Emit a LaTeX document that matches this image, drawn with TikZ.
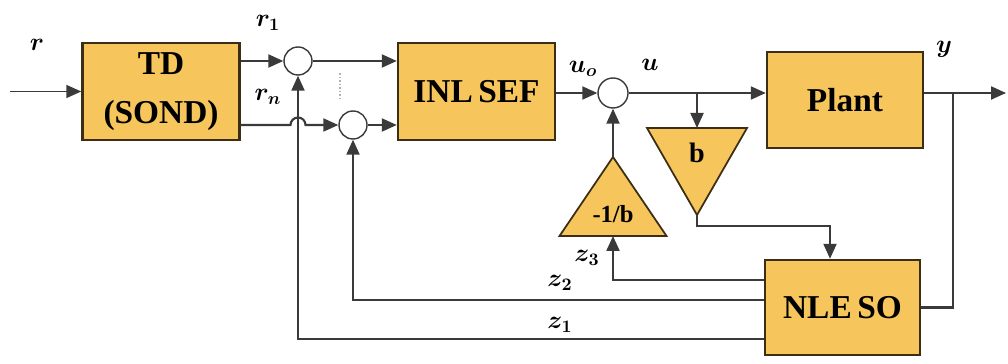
\documentclass[tikz,border=0pt]{standalone}
\usepackage{fontspec}
\setmainfont{Liberation Serif}[BoldFont={Liberation Serif Bold}]
\usetikzlibrary{arrows.meta,positioning,calc}
\definecolor{BoxGold}{HTML}{F6C55B}
\definecolor{BoxEdge}{HTML}{3C2E14}
\definecolor{LineGrey}{HTML}{3A3A3A}

\begin{document}
\begin{tikzpicture}[
    blk/.style={rectangle,draw=BoxEdge,fill=BoxGold,line width=1.4pt,minimum width=3.14cm,minimum height=1.94cm,font=\fontsize{19}{28}\selectfont\bfseries,align=center},
    sumpt/.style={circle,draw=LineGrey,fill=white,line width=0.8pt,minimum size=0.56cm,inner sep=0pt},
    gain/.style={draw=BoxEdge,fill=BoxGold,line width=1pt,line join=miter},
    gtext/.style={font=\fontsize{14}{16}\selectfont\bfseries,inner sep=1pt},
    sig/.style={font=\Large\boldmath},
    wire/.style={draw=LineGrey,line width=1.2pt},
    >={Triangle[length=3mm,width=2.6mm]}
  ]
  \useasboundingbox (0,0) rectangle (20.16,7.28);

  % blocks
  \node[blk] (td) at (3.22,5.45) {TD\\(SOND)};
  \node[blk] (sef) at (9.53,5.45) {INL\,SEF};
  \node[blk,minimum width=3.12cm,minimum height=1.92cm] (plant) at (16.9,5.28) {Plant};
  \node[blk,minimum width=3.1cm,minimum height=1.9cm] (eso) at (16.85,1.13) {NLE\,SO};

  % summing points
  \node[sumpt] (s1) at (5.96,6.06) {};
  \node[sumpt] (s2) at (7.06,4.78) {};
  \node[sumpt,minimum size=0.6cm] (s3) at (12.26,5.42) {};

  % gain b (pointing down)
  \coordinate (btop) at (13.94,4.72);
  \coordinate (bbot) at (13.94,2.98);
  \draw[gain] ($(btop)+(-1,0)$) -- ($(btop)+(1,0)$) -- (bbot) -- cycle;
  \node[gtext,font=\fontsize{16}{18}\selectfont\bfseries] (b) at (13.94,4.22) {b};

  % gain -1/b (pointing up)
  \coordinate (ktop) at (12.26,4.14);
  \coordinate (kbot) at (12.26,2.56);
  \draw[gain] (ktop) -- ($(kbot)+(1.07,0)$) -- ($(kbot)+(-1.07,0)$) -- cycle;
  \node[gtext] (kb) at (12.26,3.0) {-1/b};

  % forward path
  \coordinate (rin) at (0.2,5.45);
  \draw[wire,->,line width=0.9pt] (rin) -- (td.west);
  \draw[wire,->] (td.east |- s1) -- (s1);
  \draw[wire,->] (s1) -- (sef.west |- s1);
  \draw[wire,->] (td.east |- s2) -- ($(s1 |- s2)+(-0.15,0)$) arc (180:0:0.15) -- (s2);
  \draw[wire,->] (s2) -- (sef.west |- s2);
  \draw[densely dotted,gray!60,line width=1pt] (6.8,5.82) -- (6.8,5.28);
  \draw[wire,->] (sef.east |- s3) -- (s3);
  \draw[wire,->] (s3) -- (plant.west |- s3);
  \draw[wire,->] (btop |- s3) -- (btop);
  \coordinate (bjoint) at (13.94,2.76);
  \draw[wire,->] (bbot) -- (bjoint) -| ($(eso.north)+(-0.25,0)$);

  % plant output
  \coordinate (yout) at (20.12,5.42);
  \coordinate (ytap) at (19.06,5.42);
  \draw[wire,->] (plant.east |- s3) -- (yout);
  \draw[wire] (ytap) |- (eso.east);

  % observer states back
  \draw[wire,->] ($(eso.west)+(0,0.55)$) -| (kbot);
  \draw[wire,->] ($(eso.west)+(0,0.15)$) -| (s2);
  \draw[wire,->] ($(eso.west)+(0,-0.63)$) -| (s1);
  \draw[wire,->] (ktop) -- (s3);

  % signal names
  \node[sig] (lr) at (0.74,6.38) {$r$};
  \node[sig] (lr1) at (5.36,6.82) {$r_1$};
  \node[sig] (lrn) at (5.36,5.34) {$r_n$};
  \node[sig] (luo) at (11.66,5.9) {$u_o$};
  \node[sig] (lu) at (13.0,5.98) {$u$};
  \node[sig] (ly) at (18.88,6.3) {$y$};
  \node[sig] (lz3) at (11.74,2.12) {$z_3$};
  \node[sig] (lz2) at (11.2,1.62) {$z_2$};
  \node[sig] (lz1) at (11.2,0.78) {$z_1$};
\end{tikzpicture}
\end{document}
